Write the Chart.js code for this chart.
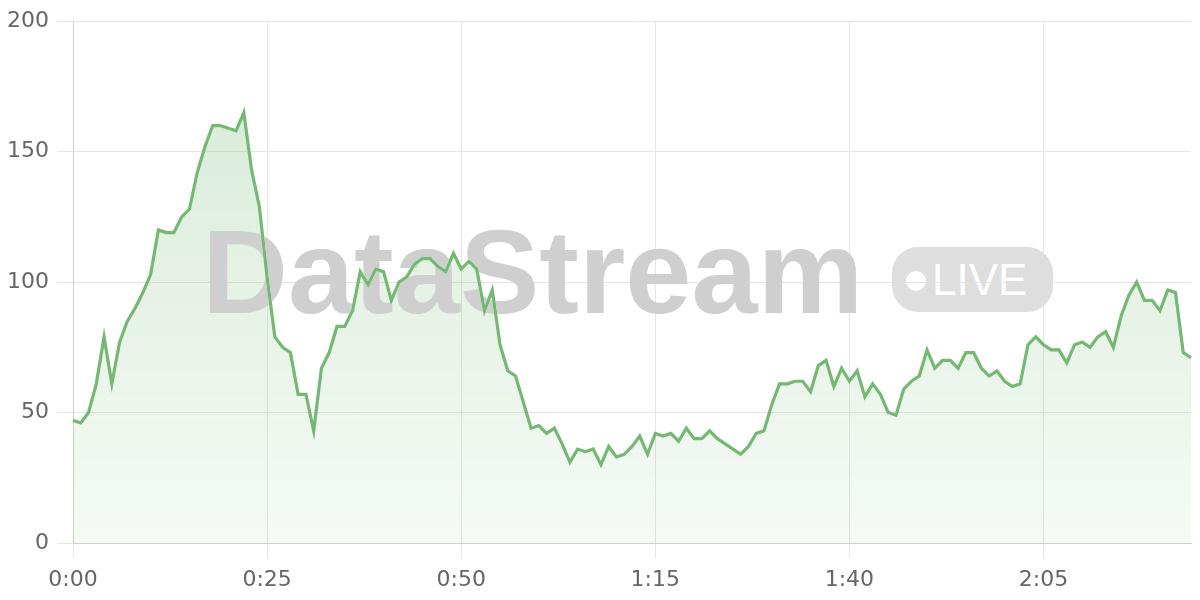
<!DOCTYPE html>
<html>
<head>
<meta charset="utf-8">
<script src="https://cdn.jsdelivr.net/npm/chart.js@4/dist/chart.umd.min.js"></script>
<style>
  html, body { margin: 0; padding: 0; background: #fff; }
  #wrap { position: relative; width: 1200px; height: 600px; overflow: hidden; background: #fff; }
  #chart { position: absolute; left: 0; top: 0; }
  .wm { position: absolute; font-family: "Liberation Sans", Arial, sans-serif; line-height: 1; white-space: nowrap; mix-blend-mode: darken; }
  #wmText { left: 202px; top: 212px; font-size: 119px; font-weight: bold; color: #cfcfcf; }
  #wmBadge { left: 892px; top: 247px; width: 161px; height: 65px; border-radius: 26px; background: #dedede; }
  #wmDot { position: absolute; left: 14px; top: 24px; width: 20px; height: 20px; border-radius: 50%; background: #fff; }
  #wmLive { position: absolute; left: 40px; top: 11px; font-size: 44px; line-height: 1; color: #fff; }
</style>
</head>
<body>
<div id="wrap">
  <canvas id="chart" width="1200" height="600"></canvas>
  <div class="wm" id="wmText">DataStream</div>
  <div class="wm" id="wmBadge"><div id="wmDot"></div><div id="wmLive">LIVE</div></div>
</div>
<script>
// minutes since start, one point per minute
const minutes = Array.from({ length: 145 }, (_, i) => i);
const timeLabels = minutes.map(m => Math.floor(m / 60) + ':' + String(m % 60).padStart(2, '0'));

const values = [
  47, 46, 50, 61, 79, 61, 77, 85, 90, 96,
  103, 120, 119, 119, 125, 128, 142, 152, 160, 160,
  159, 158, 165, 143, 129, 102, 79, 75, 73, 57,
  57, 43, 67, 73, 83, 83, 89, 104, 99, 105,
  104, 93, 100, 102, 107, 109, 109, 106, 104, 111,
  105, 108, 105, 89, 97, 76, 66, 64, 54, 44,
  45, 42, 44, 38, 31, 36, 35, 36, 30, 37,
  33, 34, 37, 41, 34, 42, 41, 42, 39, 44,
  40, 40, 43, 40, 38, 36, 34, 37, 42, 43,
  53, 61, 61, 62, 62, 58, 68, 70, 60, 67,
  62, 66, 56, 61, 57, 50, 49, 59, 62, 64,
  74, 67, 70, 70, 67, 73, 73, 67, 64, 66,
  62, 60, 61, 76, 79, 76, 74, 74, 69, 76,
  77, 75, 79, 81, 75, 87, 95, 100, 93, 93,
  89, 97, 96, 73, 71
];

const xTickEvery = 25;
const yTicks = [0, 50, 100, 150, 200];

const green = 'rgb(116, 184, 116)';
const gridColor = '#e6e6e6';
const tickFont = { family: 'DejaVu Sans', size: 22 };

const ctx = document.getElementById('chart').getContext('2d');
new Chart(ctx, {
  type: 'line',
  data: {
    labels: timeLabels,
    datasets: [{
      data: values,
      borderColor: green,
      borderWidth: 3.2,
      pointRadius: 0,
      tension: 0,
      fill: 'origin',
      backgroundColor: (c) => {
        const area = c.chart.chartArea;
        if (!area) return 'rgba(116,184,116,0.15)';
        const g = c.chart.ctx.createLinearGradient(0, area.top, 0, area.bottom);
        g.addColorStop(0, 'rgba(116,184,116,0.30)');
        g.addColorStop(1, 'rgba(116,184,116,0.07)');
        return g;
      }
    }]
  },
  options: {
    responsive: false,
    animation: false,
    layout: { padding: { left: 0, right: 8, top: 8, bottom: 0 } },
    plugins: { legend: { display: false }, tooltip: { enabled: false } },
    scales: {
      x: {
        afterFit: (s) => { s.height = 57; },
        border: { color: '#cfcfcf', width: 1 },
        grid: {
          color: (c) => (c.index % xTickEvery === 0 ? gridColor : 'rgba(0,0,0,0)'),
          tickLength: 15
        },
        ticks: {
          autoSkip: false,
          maxRotation: 0,
          padding: 9,
          color: '#666',
          font: tickFont,
          callback: (v, i) => (i % xTickEvery === 0 ? timeLabels[i] : '')
        }
      },
      y: {
        min: yTicks[0],
        max: yTicks[yTicks.length - 1],
        afterFit: (s) => { s.width = 73; },
        border: { color: '#cfcfcf', width: 1 },
        grid: { color: gridColor, tickLength: 16 },
        ticks: {
          stepSize: 50,
          padding: 8,
          color: '#666',
          font: tickFont
        }
      }
    }
  }
});
</script>
</body>
</html>
